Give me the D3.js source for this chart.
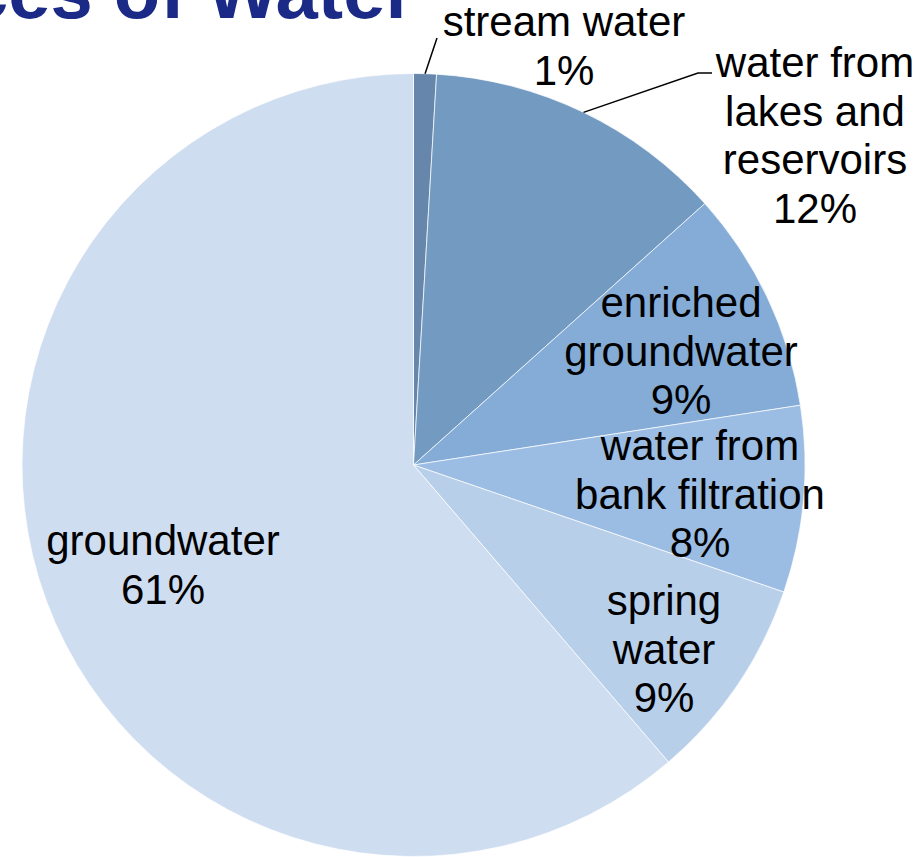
<!DOCTYPE html>
<html>
<head>
<meta charset="utf-8">
<script src="https://cdn.jsdelivr.net/npm/d3@7"></script>
<style>
  body { margin: 0; background: #fff; }
  svg { display: block; }
</style>
</head>
<body>
<svg id="chart"></svg>
<script>
// data
let categories = ["stream water", "water from lakes and reservoirs", "enriched groundwater",
                  "water from bank filtration", "spring water", "groundwater"];
let shares = [0.94, 12.42, 9.2, 7.7, 8.45, 61.29];
let labelLines = [
  ["stream water", "1%"],
  ["water from", "lakes and", "reservoirs", "12%"],
  ["enriched", "groundwater", "9%"],
  ["water from", "bank filtration", "8%"],
  ["spring", "water", "9%"],
  ["groundwater", "61%"]
];
let colors = ["#6687ab", "#739bc2", "#84acd7", "#9bbde3", "#b8cfea", "#cfddf0"];

const width = 920, height = 857;
const cx = 413.5, cy = 465, radius = 391.5;

// label layout (center x, first baseline) + leader line end for outside labels
let labelPos = [
  {x: 564, y: 36, leader: [[437, 38]]},
  {x: 815, y: 77, leader: [[698, 73], [712, 73]]},
  {x: 681, y: 317},
  {x: 700, y: 460},
  {x: 664, y: 615},
  {x: 163, y: 555}
];
const lineH = 48.5;

const svg = d3.select("#chart")
  .attr("width", width)
  .attr("height", height);

// title (cut off at the top like the slide)
svg.append("text")
  .attr("x", 415)
  .attr("y", 18)
  .attr("text-anchor", "end")
  .attr("font-family", "Liberation Sans, Arial, sans-serif")
  .attr("font-weight", "bold")
  .attr("font-size", 76)
  .attr("fill", "#1b2a86")
  .text("Sources of Water");

let pie = d3.pie().sort(null).value(d => d)
let arcs = pie(shares);
let arc = d3.arc().innerRadius(0).outerRadius(radius);

let g = svg.append("g").attr("transform", `translate(${cx},${cy})`);

g.selectAll("path")
  .data(arcs)
  .enter()
  .append("path")
  .attr("d", arc)
  .attr("fill", (d, i) => colors[i])
  .attr("stroke", "#ffffff")
  .attr("stroke-opacity", 0.7)
  .attr("stroke-width", 1);

// leader lines for the labels placed outside
arcs.forEach((d, i) => {
  let p = labelPos[i];
  if (!p.leader) return;
  let mid = (d.startAngle + d.endAngle) / 2;
  let start = [cx + radius * Math.sin(mid), cy - radius * Math.cos(mid)];
  let pts = [start].concat(p.leader);
  svg.append("path")
    .attr("d", d3.line()(pts))
    .attr("fill", "none")
    .attr("stroke", "#000")
    .attr("stroke-width", 1.5);
});

// labels
labelLines.forEach((lines, i) => {
  let p = labelPos[i];
  let t = svg.append("text")
    .attr("text-anchor", "middle")
    .attr("font-family", "Liberation Sans, Arial, sans-serif")
    .attr("font-size", 42)
    .attr("fill", "#000");
  lines.forEach((s, k) => {
    t.append("tspan")
      .attr("x", p.x)
      .attr("y", p.y + k * lineH)
      .text(s);
  });
});
</script>
</body>
</html>
